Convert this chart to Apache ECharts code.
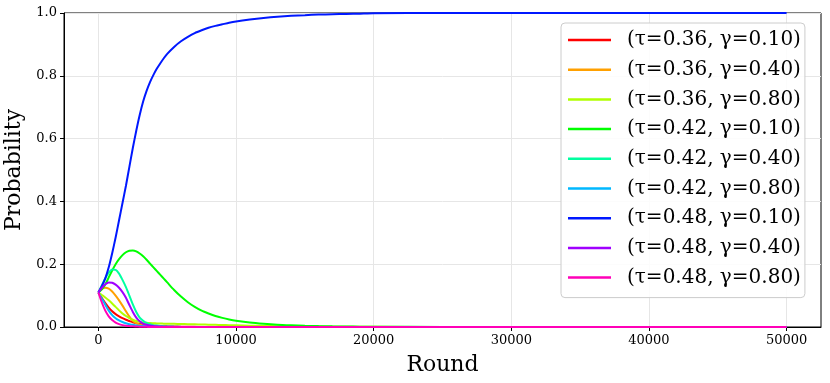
<!DOCTYPE html>
<html><head><meta charset="utf-8">
<script src="https://cdn.jsdelivr.net/npm/echarts@6/dist/echarts.min.js"></script>
<style>html,body{margin:0;padding:0;background:#fff}#c{width:830px;height:383px}</style>
</head><body><div id="c"></div>
<script>
const rounds = [0,250,500,750,1000,1250,1500,1750,2000,2250,2500,2750,3000,3250,3500,3750,4000,4250,4500,4750,5000,
  5500,6000,6500,7000,7500,8000,8500,9000,9500,10000,
  11000,12000,13000,14000,15000,16000,17000,18000,19000,20000,
  25000,30000,35000,40000,45000,50000];
const seriesNames = ['(τ=0.36, γ=0.10)','(τ=0.36, γ=0.40)','(τ=0.36, γ=0.80)','(τ=0.42, γ=0.10)','(τ=0.42, γ=0.40)','(τ=0.42, γ=0.80)','(τ=0.48, γ=0.10)','(τ=0.48, γ=0.40)','(τ=0.48, γ=0.80)'];
const t36g10 = [0.11,0.092,0.076,0.062,0.05,0.041,0.034,0.028,0.023,0.019,0.015,0.012,0.01,0.008,0.0065,0.005,0.004,0.0035,0.003,0.0025,0.002,
  0.0015,0.001,0.0007,0.0005,0.0003,0.0002,0.0001,0,0,0,
  0,0,0,0,0,0,0,0,0,0,
  0,0,0,0,0,0];
const t36g40 = [0.11,0.121,0.125,0.122,0.113,0.1,0.085,0.068,0.05,0.033,0.02,0.012,0.007,0.0045,0.003,0.002,0.0012,0.0009,0.0006,0.0004,0.0003,
  0.0001,0,0,0,0,0,0,0,0,0,
  0,0,0,0,0,0,0,0,0,0,
  0,0,0,0,0,0];
const t36g80 = [0.11,0.102,0.094,0.085,0.075,0.064,0.053,0.043,0.035,0.028,0.023,0.019,0.016,0.0145,0.0133,0.0125,0.012,0.0115,0.011,0.0107,0.0104,
  0.01,0.0095,0.009,0.0085,0.008,0.0075,0.0069,0.0063,0.0057,0.0052,
  0.0042,0.0034,0.0027,0.0021,0.0016,0.0013,0.001,0.0008,0.0006,0.0005,
  0.0001,0,0,0,0,0];
const t42g10 = [0.11,0.12,0.135,0.158,0.18,0.2,0.216,0.229,0.238,0.243,0.244,0.241,0.234,0.225,0.214,0.202,0.19,0.178,0.166,0.154,0.142,
  0.118,0.097,0.079,0.064,0.052,0.043,0.035,0.029,0.024,0.02,
  0.014,0.01,0.007,0.0052,0.0038,0.0028,0.002,0.0015,0.0011,0.0008,
  0.0002,0.0001,0,0,0,0];
const t42g40 = [0.11,0.133,0.155,0.173,0.183,0.182,0.17,0.15,0.127,0.1,0.072,0.048,0.03,0.02,0.013,0.009,0.006,0.0045,0.0033,0.0024,0.0017,
  0.001,0.0005,0.0003,0.0002,0.0001,0,0,0,0,0,
  0,0,0,0,0,0,0,0,0,0,
  0,0,0,0,0,0];
const t42g80 = [0.11,0.09,0.071,0.052,0.038,0.028,0.021,0.016,0.012,0.009,0.007,0.005,0.004,0.003,0.002,0.0015,0.001,0.0008,0.0005,0.0004,0.0003,
  0.0001,0,0,0,0,0,0,0,0,0,
  0,0,0,0,0,0,0,0,0,0,
  0,0,0,0,0,0];
const t48g10 = [0.11,0.13,0.155,0.19,0.235,0.285,0.34,0.395,0.45,0.51,0.57,0.625,0.675,0.718,0.752,0.78,0.803,0.823,0.84,0.856,0.87,
  0.892,0.91,0.924,0.936,0.945,0.953,0.959,0.964,0.969,0.973,
  0.979,0.984,0.988,0.991,0.993,0.995,0.996,0.997,0.998,0.999,
  1,1,1,1,1,1];
const t48g40 = [0.11,0.125,0.136,0.142,0.141,0.135,0.125,0.111,0.093,0.07,0.048,0.03,0.018,0.011,0.007,0.0045,0.003,0.002,0.0015,0.001,0.0008,
  0.0004,0.0002,0.0001,0,0,0,0,0,0,0,
  0,0,0,0,0,0,0,0,0,0,
  0,0,0,0,0,0];
const t48g80 = [0.11,0.078,0.052,0.034,0.022,0.014,0.009,0.006,0.004,0.003,0.002,0.0015,0.001,0.0007,0.0005,0.0003,0.0002,0.0001,0,0,0,
  0,0,0,0,0,0,0,0,0,0,
  0,0,0,0,0,0,0,0,0,0,
  0,0,0,0,0,0];
const xTicks = [0,10000,20000,30000,40000,50000];

const allValues = [t36g10,t36g40,t36g80,t42g10,t42g40,t42g80,t48g10,t48g40,t48g80];
const colors = ['#ff0000','#ffa000','#b0ff00','#00ff00','#00ffa0','#00b8ff','#0018ff','#a000ff','#ff00b8'];
const serif = 'DejaVu Serif';

const chart = echarts.init(document.getElementById('c'), null, {renderer:'canvas'});
chart.setOption({
  animation: false,
  color: colors,
  grid: {left:64, top:13, right:9, bottom:56, containLabel:false, outerBoundsMode:'none', show:true, borderColor:'#000', borderWidth:1},
  legend: {
    orient:'vertical', left:561, top:23,
    padding:[6,4,9,7],
    itemWidth:43, itemHeight:2.5, itemGap:7.7,
    icon:'rect',
    backgroundColor:'rgba(255,255,255,0.85)', borderColor:'#cccccc', borderWidth:1, borderRadius:4,
    textStyle:{fontFamily:serif, fontSize:20, lineHeight:22, color:'#000', padding:[0,0,0,11]},
    data: seriesNames
  },
  xAxis: {
    type:'value', min:-2500, max:52500,
    name:'Round', nameLocation:'middle', nameGap:27,
    nameTextStyle:{fontFamily:serif, fontSize:22, color:'#000'},
    axisLine:{show:true, onZero:false, lineStyle:{color:'#000'}},
    axisTick:{show:true, customValues:xTicks, length:4, lineStyle:{color:'#000'}},
    axisLabel:{customValues:xTicks, fontFamily:serif, fontSize:13, color:'#000', margin:7, formatter:v=>String(v)},
    splitLine:{show:true, lineStyle:{color:'#e6e6e6', width:1}}
  },
  yAxis: {
    type:'value', min:0, max:1, interval:0.2,
    name:'Probability', nameLocation:'middle', nameGap:31,
    nameTextStyle:{fontFamily:serif, fontSize:22, color:'#000'},
    axisLine:{show:true, onZero:false, lineStyle:{color:'#000'}},
    axisTick:{show:true, length:4, lineStyle:{color:'#000'}},
    axisLabel:{fontFamily:serif, fontSize:13, color:'#000', margin:7, formatter:v=>v.toFixed(1)},
    splitLine:{show:true, lineStyle:{color:'#e6e6e6', width:1}}
  },
  series: allValues.map((vals,i)=>({
    name: seriesNames[i], type:'line', showSymbol:false, symbol:'none',
    smooth:0.25,
    lineStyle:{width:2, color:colors[i]}, itemStyle:{color:colors[i]},
    data: rounds.map((r,j)=>[r, vals[j]])
  }))
});
</script></body></html>
